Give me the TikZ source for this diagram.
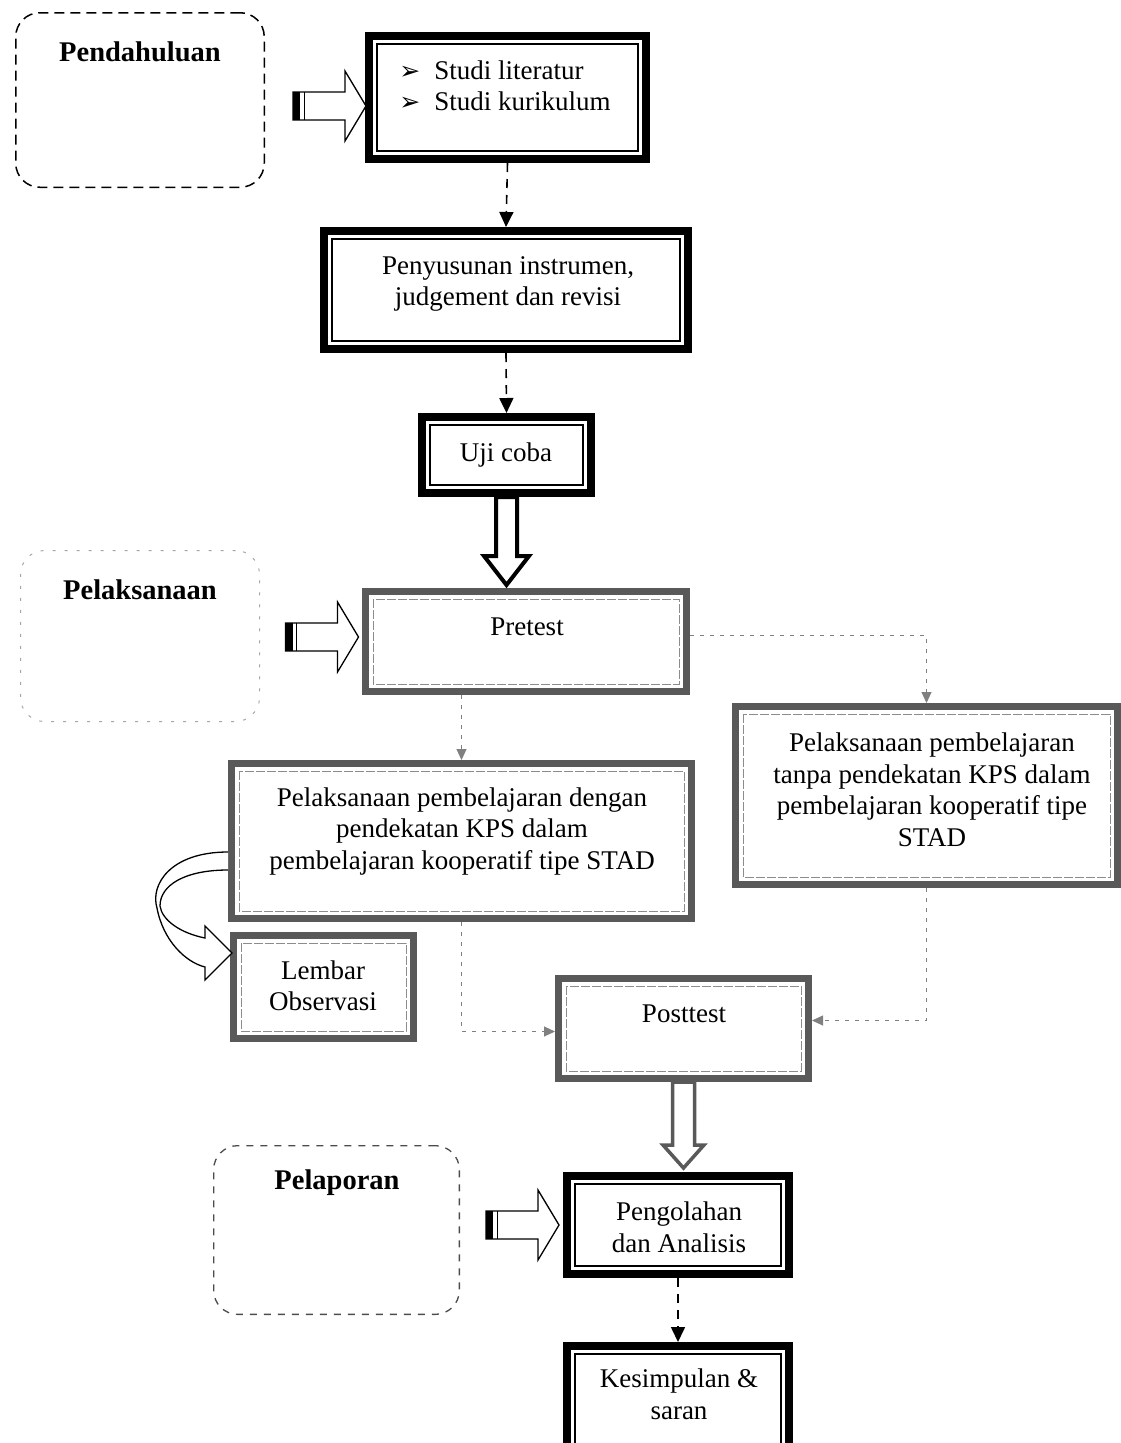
\documentclass[tikz,border=0pt]{standalone}
\usepackage{fontspec}
\setmainfont{Liberation Serif}
\newfontfamily\symfont{DejaVu Sans}
\usetikzlibrary{arrows.meta,calc}
\newcommand{\bul}{\makebox[35pt][l]{\symfont\fontsize{25}{25}\selectfont ➢}}
\tikzset{
  blackbox/.style={draw=black, line width=8pt, outer sep=4pt, inner sep=0pt, fill=white},
  innerblack/.style={draw=black, line width=1.6pt},
  graybox/.style={draw=black!65, line width=7pt, outer sep=3.5pt, inner sep=0pt, fill=white},
  innergray/.style={draw=black!45, line width=0.8pt, dash pattern=on 9pt off 2pt},
  txt/.style={font=\fontsize{27}{31.5}\selectfont, align=center, inner sep=0pt},
  title/.style={font=\fontsize{28.5}{32}\selectfont\bfseries, inner sep=0pt},
  regionA/.style={draw=black, line width=1.5pt, rounded corners=24pt, dash pattern=on 10pt off 6pt, inner sep=0pt},
  regionB/.style={draw=black!35, line width=1pt, rounded corners=24pt, dash pattern=on 3pt off 9pt, inner sep=0pt},
  regionC/.style={draw=black!70, line width=1.3pt, rounded corners=24pt, dash pattern=on 7pt off 7pt, inner sep=0pt},
  bconn/.style={draw=black, line width=1.6pt, dash pattern=on 9pt off 7pt, -{Triangle[length=15pt,width=14pt]}},
  gconn/.style={draw=black!50, line width=1pt, dash pattern=on 4pt off 6pt, -{Triangle[length=11pt,width=10pt]}},
  inarrow/.pic={
    \draw[line width=1.3pt, fill=white] (-73,-14) -- (-21,-14) -- (-21,-35) -- (0,0) -- (-21,35) -- (-21,14) -- (-73,14) -- cycle;
    \fill (-73,-14) rectangle (-66,14);
    \draw[line width=1pt] (-62,-14) -- (-62,14);
  }
}
\begin{document}
\begin{tikzpicture}[x=1pt,y=-1pt]
\useasboundingbox (0,0) rectangle (1121,1443);
\clip (0,0) rectangle (1121,1443);

% region boxes
\node[regionA, minimum width=248.5pt, minimum height=174.5pt] (rpend) at (140,100) {};
\node[title] (tpend) at (140,52) {Pendahuluan};
\node[regionB, minimum width=239pt, minimum height=171pt] (rpel) at (140,636) {};
\node[title] (tpel) at (140,590) {Pelaksanaan};
\node[regionC, minimum width=245.7pt, minimum height=168.7pt] (rlap) at (336.5,1230) {};
\node[title] (tlap) at (337,1183) {Pelaporan};

% black boxes
\node[blackbox, minimum width=277pt, minimum height=123pt] (s1) at (507.5,97.5) {};
\node[blackbox, minimum width=364pt, minimum height=118pt] (s2) at (506,290) {};
\node[blackbox, minimum width=169pt, minimum height=76pt] (uji) at (506.5,455) {};
\node[blackbox, minimum width=222pt, minimum height=98pt] (peng) at (678,1225) {};
\node[blackbox, minimum width=222pt, minimum height=110pt] (kes) at (678,1401) {};
\foreach \n in {s1,s2,uji,peng,kes}
  \draw[innerblack] ($(\n.north west)+(12pt,-12pt)$) rectangle ($(\n.south east)+(-12pt,12pt)$);

% gray boxes
\node[graybox, minimum width=321pt, minimum height=100pt] (pre) at (526,641.5) {};
\node[graybox, minimum width=460pt, minimum height=155pt] (kps) at (461.5,841) {};
\node[graybox, minimum width=382pt, minimum height=178pt] (rb) at (926.5,795.5) {};
\node[graybox, minimum width=180pt, minimum height=103pt] (lem) at (323.5,987) {};
\node[graybox, minimum width=250pt, minimum height=100pt] (post) at (683.5,1028.5) {};
\foreach \n in {pre,kps,rb,lem,post}
  \draw[innergray] ($(\n.north west)+(11pt,-11pt)$) rectangle ($(\n.south east)+(-11pt,11pt)$);

% texts
\node[txt, align=left] (s1t) at (505,86) {\bul Studi literatur\\\bul Studi kurikulum};
\node[txt] (s2t) at (508,284) {Penyusunan instrumen,\\judgement dan revisi};
\node[txt] (ujit) at (506,455) {Uji coba};
\node[txt] (pret) at (527,627) {Pretest};
\node[txt] (kpst) at (462,831) {Pelaksanaan pembelajaran dengan\\pendekatan KPS dalam\\pembelajaran kooperatif tipe STAD};
\node[txt] (rbt) at (932,790) {Pelaksanaan pembelajaran\\tanpa pendekatan KPS dalam\\pembelajaran kooperatif tipe\\STAD};
\node[txt] (lemt) at (323,986) {Lembar\\Observasi};
\node[txt] (postt) at (684,1014) {Posttest};
\node[txt] (pengt) at (679,1227) {Pengolahan\\dan Analisis};
\node[txt] (kest) at (679,1394) {Kesimpulan \&\\saran};

% input block arrows
\pic at ($(s1.west)+(1,8.5)$) {inarrow};
\pic at ($(pre.west)+(-3.5,-4.5)$) {inarrow};
\pic at ($(peng.west)+(-4,0)$) {inarrow};

% dashed black connectors
\draw[bconn] (s1.south) -- (s2.north);
\draw[bconn] (s2.south) -- (uji.north);
\draw[bconn] (peng.south) -- (kes.north);

% big hollow arrows
\draw[line width=4pt, fill=white, line join=miter] let \p1=(uji.south), \p2=(pre.north) in
  (\x1-10.5pt,\y1) -- (\x1-10.5pt,\y2+32pt) -- (\x1-22.5pt,\y2+32pt) -- (\x1,\y2+3pt)
  -- (\x1+22.5pt,\y2+32pt) -- (\x1+10.5pt,\y2+32pt) -- (\x1+10.5pt,\y1) -- cycle;
\draw[draw=black!65, line width=3.5pt, fill=white, line join=miter] let \p1=(post.south), \p2=(peng.north) in
  (\x1-11pt,\y1) -- (\x1-11pt,\y2+27pt) -- (\x1-20.5pt,\y2+27pt) -- (\x1,\y2+4pt)
  -- (\x1+20.5pt,\y2+27pt) -- (\x1+11pt,\y2+27pt) -- (\x1+11pt,\y1) -- cycle;

% gray dashed connectors
\draw[gconn] (kps.north |- pre.south) -- (kps.north);
\draw[gconn] ($(pre.east)+(0,-6)$) -| (rb.north);
\draw[gconn] (kps.south) |- ($(post.west)+(0,3)$);
\draw[gconn] (rb.south) |- ($(post.east)+(0,-8)$);

% curved arrow to Lembar Observasi
\draw[line width=1.3pt, fill=white, line join=miter]
  ($(kps.west)+(0,11)$) .. controls (170,852) and (150,885) .. (157,908)
  .. controls (163,940) and (185,962) .. (205,967)
  -- (205,980) -- ($(lem.west)+(2,-34)$) -- (205,926) -- (205,938)
  .. controls (180,933) and (162,920) .. (160,906)
  .. controls (160,885) and (185,870) .. ($(kps.west)+(0,29)$);
\end{tikzpicture}
\end{document}
